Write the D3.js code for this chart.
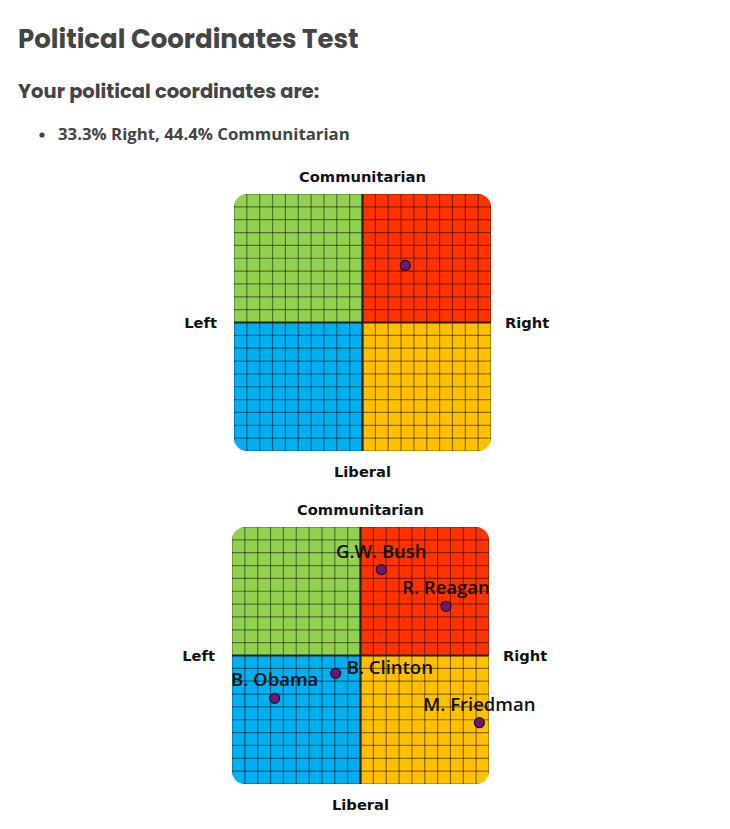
<!DOCTYPE html>
<html>
<head>
<meta charset="utf-8">
<script src="https://cdn.jsdelivr.net/npm/d3@7"></script>
<style>
  body { margin: 0; background: #fff; }
</style>
</head>
<body>
<div class="page"></div>
<script>
const w = 730;
const h = 829;

// result text
const pageTitle = "Political Coordinates Test";
const resultHeading = "Your political coordinates are:";
const resultLine = "33.3% Right, 44.4% Communitarian";

// axis names: top, left, right, bottom
const axisNames = ["Communitarian", "Left", "Right", "Liberal"];

// user position (percent, x = right, y = communitarian)
const userX = [33.3];
const userY = [44.4];

// famous figures
const figureNames = ["G.W. Bush", "R. Reagan", "B. Clinton", "B. Obama", "M. Friedman"];
const figureX = [16.2, 66.5, -19.3, -66.8, 92.5];
const figureY = [66.8, 38.3, -13.9, -33.3, -52.3];
const figureLabelSide = ["top", "top", "right", "top", "top"];

const quadColors = ["#92d050", "#ff3300", "#00b0f0", "#ffc000"];
const size = 257;

const svg = d3.select(".page")
              .append("svg")
              .attr("width", w)
              .attr("height", h);

svg.append("text")
   .attr("x", 18).attr("y", 48)
   .attr("font-family", "Poppins, Inter, sans-serif")
   .attr("font-weight", 700)
   .attr("font-size", 26)
   .attr("fill", "#444")
   .text(pageTitle);

svg.append("text")
   .attr("x", 18).attr("y", 98)
   .attr("font-family", "Poppins, Inter, sans-serif")
   .attr("font-weight", 700)
   .attr("font-size", 19.5)
   .attr("fill", "#444")
   .text(resultHeading);

svg.append("circle")
   .attr("cx", 42).attr("cy", 135).attr("r", 2.6)
   .attr("fill", "#444");

svg.append("text")
   .attr("x", 58).attr("y", 140)
   .attr("font-family", "Open Sans, sans-serif")
   .attr("font-weight", 700)
   .attr("font-size", 16.8)
   .attr("fill", "#444")
   .text(resultLine);

const x = d3.scaleLinear().domain([-100, 100]).range([0, size]);
const y = d3.scaleLinear().domain([-100, 100]).range([size, 0]);

function drawCompass(id, left, top) {
  const g = svg.append("g").attr("transform", `translate(${left}, ${top})`);

  g.append("clipPath").attr("id", id)
   .append("rect")
   .attr("width", size).attr("height", size)
   .attr("rx", 13).attr("ry", 13);

  const body = g.append("g").attr("clip-path", `url(#${id})`);

  const quads = [[-100, 100], [0, 100], [-100, 0], [0, 0]];
  body.selectAll("rect.quad")
      .data(quads)
      .enter().append("rect")
      .attr("class", "quad")
      .attr("x", d => x(d[0]))
      .attr("y", d => y(d[1]))
      .attr("width", x(0) - x(-100))
      .attr("height", y(0) - y(100))
      .attr("fill", (d, i) => quadColors[i]);

  const ticks = x.ticks(20);
  body.selectAll("line.gx")
      .data(ticks)
      .enter().append("line")
      .attr("x1", d => x(d)).attr("x2", d => x(d))
      .attr("y1", 0).attr("y2", size)
      .attr("stroke", "#000").attr("stroke-opacity", 0.45)
      .attr("stroke-width", 1.2);
  body.selectAll("line.gy")
      .data(ticks)
      .enter().append("line")
      .attr("y1", d => y(d)).attr("y2", d => y(d))
      .attr("x1", 0).attr("x2", size)
      .attr("stroke", "#000").attr("stroke-opacity", 0.45)
      .attr("stroke-width", 1.2);

  // centre axes
  body.append("line")
      .attr("x1", x(0)).attr("x2", x(0)).attr("y1", 0).attr("y2", size)
      .attr("stroke", "#222").attr("stroke-width", 2.2);
  body.append("line")
      .attr("y1", y(0)).attr("y2", y(0)).attr("x1", 0).attr("x2", size)
      .attr("stroke", "#222").attr("stroke-width", 2.2);

  const lab = {"font-family": "DejaVu Sans, Verdana, sans-serif", "font-weight": "bold", "font-size": 14.7, "fill": "#111"};
  const addLabel = (t, px, py, anchor) => {
    const el = g.append("text").attr("x", px).attr("y", py)
                .attr("text-anchor", anchor).text(t);
    Object.entries(lab).forEach(([k, v]) => el.attr(k, v));
  };
  addLabel(axisNames[0], x(0), -12, "middle");
  addLabel(axisNames[1], -17, y(0) + 5, "end");
  addLabel(axisNames[2], size + 14, y(0) + 5, "start");
  addLabel(axisNames[3], x(0), size + 26, "middle");

  return g;
}

function dot(g, px, py) {
  g.append("circle")
   .attr("cx", x(px)).attr("cy", y(py)).attr("r", 5)
   .attr("fill", "#6b1a73")
   .attr("stroke", "#2a0a2e").attr("stroke-width", 1.2);
}

const top1 = drawCompass("clipA", 234, 194);
userX.forEach((v, i) => dot(top1, v, userY[i]));

const top2 = drawCompass("clipB", 232, 527);
figureNames.forEach((name, i) => {
  dot(top2, figureX[i], figureY[i]);
  const side = figureLabelSide[i];
  top2.append("text")
      .attr("x", side === "right" ? x(figureX[i]) + 11 : x(figureX[i]))
      .attr("y", side === "right" ? y(figureY[i]) + 1 : y(figureY[i]) - 12)
      .attr("text-anchor", side === "right" ? "start" : "middle")
      .attr("font-family", "Open Sans, sans-serif")
      .attr("font-weight", 600)
      .attr("font-size", 18.5)
      .attr("fill", "#111")
      .text(name);
});
</script>
</body>
</html>
